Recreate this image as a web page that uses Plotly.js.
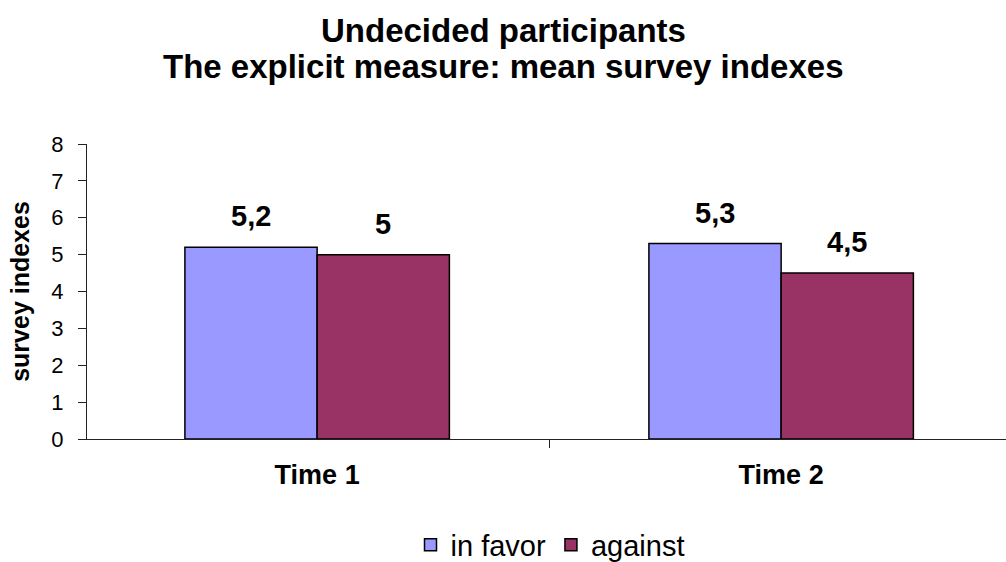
<!DOCTYPE html>
<html>
<head>
<meta charset="utf-8">
<script src="https://cdn.plot.ly/plotly-3.0.1.min.js"></script>
<style>
  html, body { margin: 0; padding: 0; background: #fff; }
  #chart { width: 1006px; height: 562px; }
</style>
</head>
<body>
<div id="chart"></div>
<script>
// Mean survey indexes of undecided participants, per measurement time
const times = ['Time 1', 'Time 2'];
const inFavor = [5.2, 5.3];
const against = [5.0, 4.5];
const seriesNames = ['in favor', 'against'];
const seriesColors = ['#9999FF', '#993366'];
const yTicks = [0, 1, 2, 3, 4, 5, 6, 7, 8];
const titleLines = ['Undecided participants', 'The explicit measure: mean survey indexes'];

const FONT = 'Liberation Sans, Arial, sans-serif';
const BARGAP = 0.43;
const barW = (1 - BARGAP) / 2;

// decimal comma, as in the labels
const fmt = v => String(v).replace('.', ',');

const series = [inFavor, against];
const traces = series.map((vals, k) => ({
  type: 'bar',
  name: seriesNames[k],
  x: times,
  y: vals,
  marker: { color: seriesColors[k], line: { color: '#000', width: 1.5 } },
  hoverinfo: 'skip'
}));

// value labels sitting above each bar
const annotations = [];
series.forEach((vals, k) => {
  vals.forEach((v, i) => {
    annotations.push({
      x: i + (k === 0 ? -barW / 2 : barW / 2),
      y: v,
      xref: 'x', yref: 'y',
      text: '<b>' + fmt(v) + '</b>',
      showarrow: false,
      yanchor: 'bottom',
      yshift: 13,
      font: { family: FONT, size: 29, color: '#000' }
    });
  });
});

// two-line chart heading
const titleY = [1.386, 1.264];
titleLines.forEach((t, j) => {
  annotations.push({
    xref: 'paper', yref: 'paper',
    x: 0.4527, y: titleY[j],
    xanchor: 'center', yanchor: 'middle',
    text: '<b>' + t + '</b>',
    showarrow: false,
    font: { family: FONT, size: 33, color: '#000' }
  });
});

const layout = {
  width: 1006,
  height: 562,
  paper_bgcolor: '#fff',
  plot_bgcolor: '#fff',
  margin: { l: 87, r: 0, t: 144, b: 123 },
  barmode: 'group',
  bargap: BARGAP,
  bargroupgap: 0,
  showlegend: true,
  legend: {
    orientation: 'h',
    xref: 'container', yref: 'container',
    x: 550 / 1006, xanchor: 'center',
    y: 1 - 545 / 562, yanchor: 'middle',
    font: { family: FONT, size: 29, color: '#000' },
    itemwidth: 30,
    tracegroupgap: 0
  },
  xaxis: {
    type: 'category',
    range: [-0.496, 1.5 - 9 / 464 + 0.004],
    showline: true, linecolor: '#222', linewidth: 1,
    ticks: 'outside', tickson: 'boundaries', ticklen: 8, tickcolor: '#222',
    showgrid: false, zeroline: false,
    tickfont: { family: FONT, size: 27, color: '#000', weight: 'bold' },
    ticklabelstandoff: 12
  },
  yaxis: {
    range: [0, 8],
    tickvals: yTicks,
    showline: true, linecolor: '#222', linewidth: 1,
    ticks: 'outside', ticklen: 8, tickcolor: '#222',
    showgrid: false, zeroline: false,
    tickfont: { family: FONT, size: 22, color: '#000' },
    ticklabelstandoff: 10,
    title: {
      text: '<b>survey indexes</b>',
      font: { family: FONT, size: 25, color: '#000' },
      standoff: 14
    }
  },
  annotations: annotations
};

Plotly.newPlot('chart', traces, layout, { displayModeBar: false, staticPlot: true });
</script>
</body>
</html>
